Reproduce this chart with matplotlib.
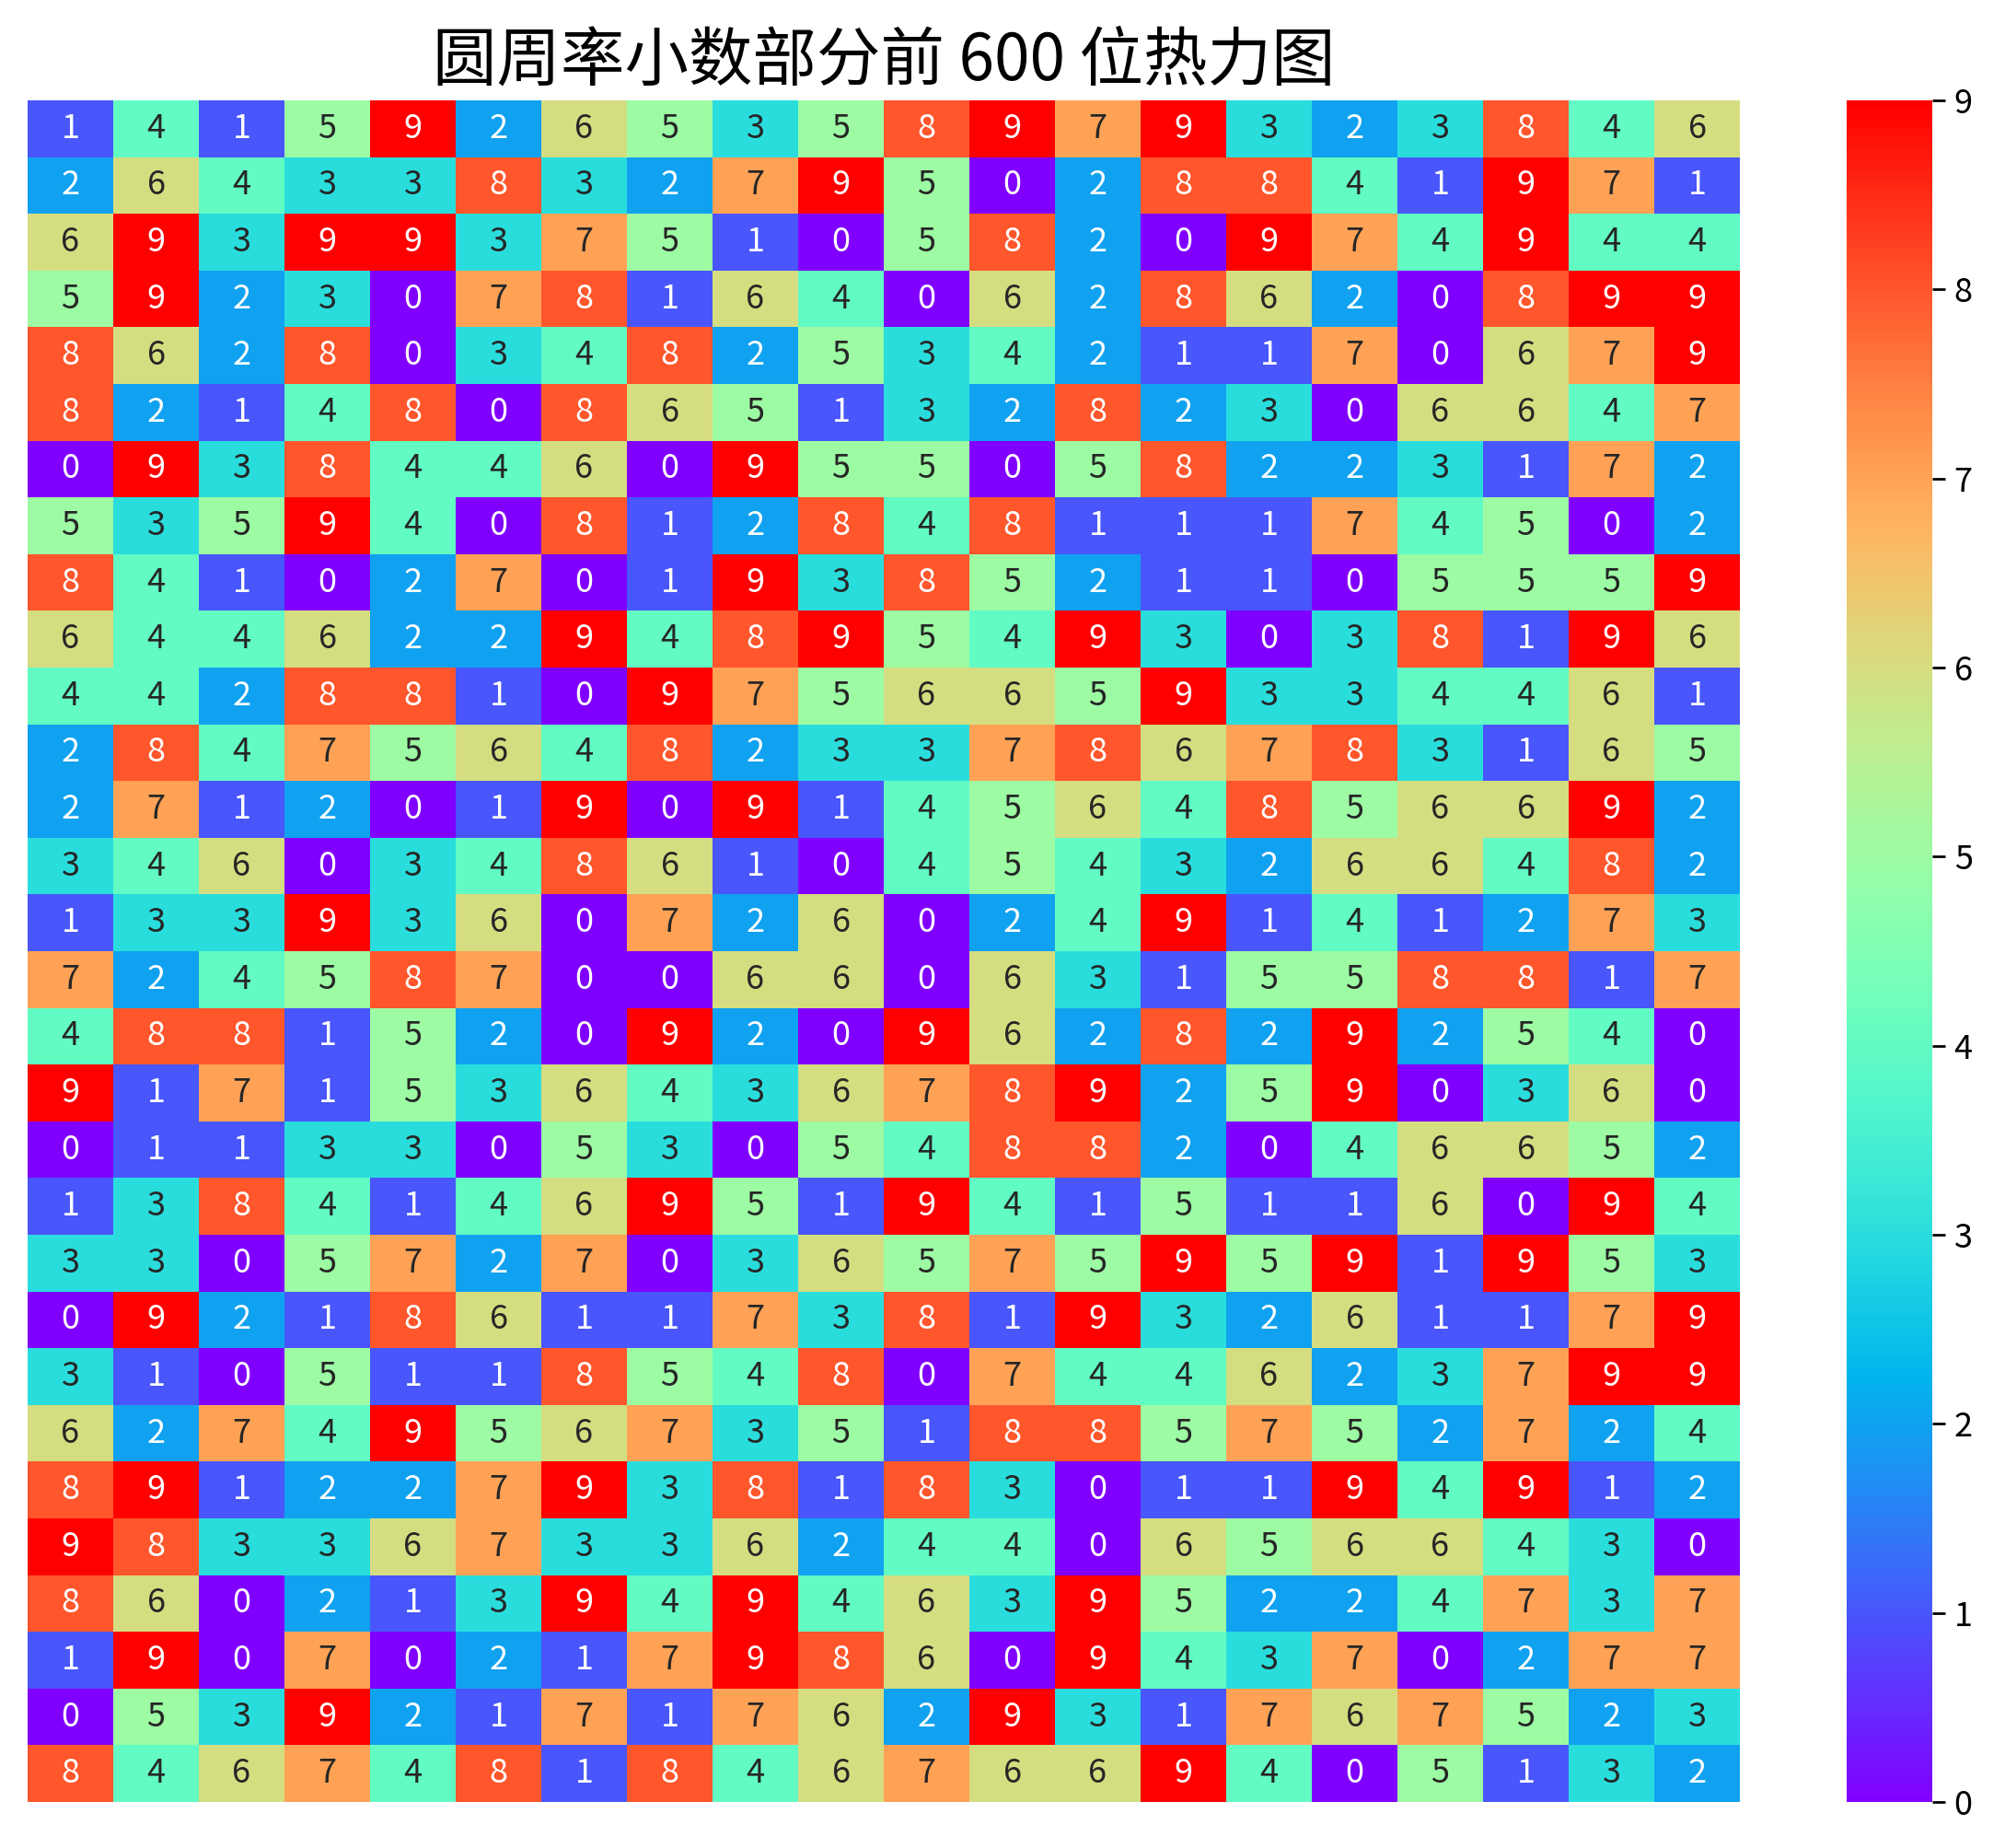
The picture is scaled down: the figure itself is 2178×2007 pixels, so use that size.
import numpy as np
import matplotlib
matplotlib.use("Agg")
import matplotlib.pyplot as plt
import seaborn as sns

plt.rcParams['font.family'] = ['Noto Sans CJK SC', 'DejaVu Sans']
plt.rcParams['axes.unicode_minus'] = False

# first 600 decimal digits of pi, 50 per line
pi_lines = [
    "14159265358979323846264338327950288419716939937510",
    "58209749445923078164062862089986280348253421170679",
    "82148086513282306647093844609550582231725359408128",
    "48111745028410270193852110555964462294895493038196",
    "44288109756659334461284756482337867831652712019091",
    "45648566923460348610454326648213393607260249141273",
    "72458700660631558817488152092096282925409171536436",
    "78925903600113305305488204665213841469519415116094",
    "33057270365759591953092186117381932611793105118548",
    "07446237996274956735188575272489122793818301194912",
    "98336733624406566430860213949463952247371907021798",
    "60943702770539217176293176752384674818467669405132",
]
digits = [int(c) for c in "".join(pi_lines)]
n_rows, n_cols = 30, 20
grid = np.array(digits).reshape(n_rows, n_cols)

title = "圆周率小数部分前 600 位热力图"

fig = plt.figure(figsize=(10.89, 10.035), dpi=200)
ax = fig.add_axes([30 / 2178, 50 / 2007, 1860 / 2178, 1848 / 2007])
cax = fig.add_axes([2006 / 2178, 50 / 2007, 93 / 2178, 1848 / 2007])

sns.heatmap(grid, ax=ax, cbar_ax=cax, cmap="rainbow", vmin=0, vmax=9,
            annot=True, fmt="d", annot_kws={"size": 13},
            xticklabels=False, yticklabels=False, square=False)

cax.tick_params(labelsize=13, length=5, width=1)
cax.set_yticks(range(10))

ax.set_title(title, fontsize=25, pad=8)

fig.savefig("out.png", dpi=200)
